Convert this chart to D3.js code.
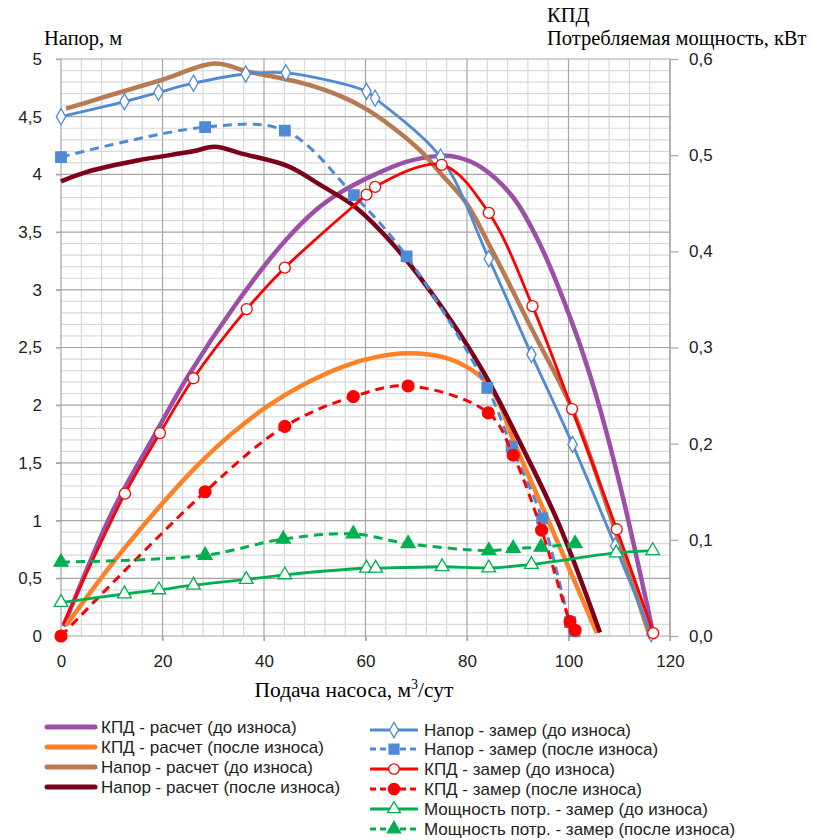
<html>
<head>
<meta charset='UTF-8'>
<script src="https://d3js.org/d3.v7.min.js"></script>
<style>
  body { margin: 0; background: #fff; }
</style>
</head>
<body>
<svg id="chart" width="813" height="840"></svg>
<script>
// --- data: [подача, значение] ---
// КПД - расчет (до износа), right axis
const effCalcBefore = [[0.5,0.01],[10,0.128],[17.9,0.204],[25,0.27],[34.3,0.344],[43.5,0.407],[50,0.442],[55,0.461],[61.5,0.479],[68,0.493],[74,0.499],[78,0.498],[82.6,0.488],[89.1,0.456],[94.4,0.407],[100.9,0.323],[105,0.258],[110,0.16],[116.6,0.005]];
// КПД - расчет (после износа), right axis
const effCalcAfter = [[1,0.011],[6,0.047],[12,0.088],[20,0.138],[27,0.178],[34,0.212],[41,0.24],[48,0.262],[56,0.281],[62,0.29],[68,0.294],[76,0.289],[82.6,0.27],[85.9,0.247],[89.1,0.204],[95.7,0.124],[105.6,0.003]];
// Напор - расчет (до износа), left axis
const headCalcBefore = [[1,4.57],[10,4.69],[20,4.82],[30.3,4.96],[36.9,4.89],[44.8,4.82],[50,4.76],[55,4.68],[60,4.57],[65,4.42],[70.7,4.21],[75,4.0],[79.9,3.75],[84.5,3.38],[93,2.64],[101,1.94],[108,1.07],[115.7,0.04]];
// Напор - расчет (после износа), left axis
const headCalcAfter = [[0,3.94],[5,4.02],[15,4.12],[26,4.2],[30.3,4.24],[35.6,4.18],[44.8,4.07],[51.4,3.9],[57.9,3.72],[65.5,3.39],[74.7,2.87],[83.2,2.29],[90.4,1.68],[98,0.98],[106.2,0.03]];
// Напор - замер (до износа), left axis
const headMeasBefore = [[0,4.5],[12.5,4.63],[19.2,4.71],[26.1,4.79],[36.4,4.87],[44.3,4.88],[60.2,4.72],[61.9,4.66],[74.8,4.15],[84.3,3.27],[92.7,2.44],[100.8,1.66],[109.2,0.78],[116.3,0.02]];
// Напор - замер (после износа), left axis
const headMeasAfter = [[0,4.15],[28.4,4.41],[44.1,4.38],[57.7,3.82],[68.1,3.29],[84,2.15],[88.8,1.64],[94.8,1.02],[100.3,0.12],[101.2,0.04]];
// КПД - замер (до износа), right axis
const effMeasBefore = [[0.4,0.012],[12.6,0.148],[19.5,0.211],[26.1,0.268],[36.6,0.34],[44.1,0.383],[60.2,0.459],[61.9,0.467],[75,0.49],[84.3,0.44],[92.9,0.343],[100.7,0.236],[109.5,0.111],[116.7,0.003]];
// КПД - замер (после износа), right axis
const effMeasAfter = [[0,0],[28.4,0.15],[44.1,0.218],[57.6,0.249],[68.4,0.26],[84.2,0.232],[89.1,0.188],[94.7,0.11],[100.3,0.015],[101.3,0.006]];
// Мощность потр. - замер (до износа)
const powerMeasBefore = [[0,0.29],[12.5,0.364],[19.3,0.4],[26.1,0.44],[36.5,0.49],[44.1,0.53],[60.2,0.587],[62,0.587],[75.1,0.6],[84.3,0.59],[92.7,0.62],[109.4,0.72],[116.6,0.74]];
// Мощность потр. - замер (после износа)
const powerMeasAfter = [[0,0.64],[28.4,0.7],[43.8,0.84],[57.6,0.885],[68.4,0.8],[84.3,0.74],[89.1,0.76],[94.6,0.77],[101.3,0.8]];

const leftTicks = [0, 0.5, 1, 1.5, 2, 2.5, 3, 3.5, 4, 4.5, 5];
const rightTicks = [0, 0.1, 0.2, 0.3, 0.4, 0.5, 0.6];
const xTicks = [0, 20, 40, 60, 80, 100, 120];

const seriesNames = [
  'КПД - расчет (до износа)', 'КПД - расчет (после износа)',
  'Напор - расчет (до износа)', 'Напор - расчет (после износа)',
  'Напор - замер (до износа)', 'Напор - замер (после износа)',
  'КПД - замер (до износа)', 'КПД - замер (после износа)',
  'Мощность потр. - замер (до износа)', 'Мощность потр. - замер (после износа)'
];

const svg = d3.select('#chart');
const ru = d3.formatLocale({decimal: ',', thousands: ' ', grouping: [3], currency: ['', '']});

const x = d3.scaleLinear().domain([0, 120]).range([61, 670]);
const yL = d3.scaleLinear().domain([0, 5]).range([636, 59]);
const yR = d3.scaleLinear().domain([0, 0.6]).range([636, 59]);

// grid: minor then major
const grid = svg.append('g');
d3.range(0, 31).map(i => i * 4).filter(v => v % 20 !== 0).forEach(v => {
  grid.append('line').attr('x1', x(v)).attr('x2', x(v)).attr('y1', yL(0)).attr('y2', yL(5))
    .attr('stroke', '#d9d9d9').attr('stroke-width', 1.2);
});
d3.range(0, 51).map(i => i / 10).filter(v => Math.round(v * 10) % 5 !== 0).forEach(v => {
  grid.append('line').attr('x1', x(0)).attr('x2', x(120)).attr('y1', yL(v)).attr('y2', yL(v))
    .attr('stroke', '#d9d9d9').attr('stroke-width', 1.2);
});
xTicks.forEach(v => {
  grid.append('line').attr('x1', x(v)).attr('x2', x(v)).attr('y1', yL(0) + 5).attr('y2', yL(5))
    .attr('stroke', '#a6a6a6').attr('stroke-width', 1.2);
});
leftTicks.forEach(v => {
  grid.append('line').attr('x1', x(0) - 5).attr('x2', x(120)).attr('y1', yL(v)).attr('y2', yL(v))
    .attr('stroke', '#a6a6a6').attr('stroke-width', 1.2);
});

// axes (labels only, lines come from the grid)
const tickFont = '"Liberation Sans", Arial, sans-serif';
const axL = svg.append('g').attr('transform', `translate(${x(0)},0)`)
  .call(d3.axisLeft(yL).tickValues(leftTicks).tickSize(5).tickPadding(14).tickFormat(ru.format('')));
const axR = svg.append('g').attr('transform', `translate(${x(120)},0)`)
  .call(d3.axisRight(yR).tickValues(rightTicks).tickSize(8).tickPadding(11).tickFormat(ru.format('.1f')));
const axB = svg.append('g').attr('transform', `translate(0,${yL(0)})`)
  .call(d3.axisBottom(x).tickValues(xTicks).tickSize(5).tickPadding(14));
[axL, axR, axB].forEach(a => {
  a.selectAll('text').attr('font-family', tickFont).attr('font-size', 17).attr('fill', '#222');
  a.selectAll('line').attr('stroke', '#a6a6a6').attr('stroke-width', 1.2);
  a.select('.domain').remove();
});
axR.append('line').attr('x1', 0).attr('x2', 0).attr('y1', yR(0)).attr('y2', yR(0.6))
  .attr('stroke', '#a6a6a6').attr('stroke-width', 1.2);

// titles
const serif = '"Liberation Serif", "Times New Roman", serif';
svg.append('text').attr('x', 44).attr('y', 45).attr('font-family', serif).attr('font-size', 20.5).text('Напор, м');
svg.append('text').attr('x', 547).attr('y', 22).attr('font-family', serif).attr('font-size', 20.5).text('КПД');
svg.append('text').attr('x', 547).attr('y', 45).attr('font-family', serif).attr('font-size', 20.5).text('Потребляемая мощность, кВт');
const xt = svg.append('text').attr('x', 354).attr('y', 697).attr('text-anchor', 'middle')
  .attr('font-family', serif).attr('font-size', 21.5);
xt.append('tspan').text('Подача насоса, м');
xt.append('tspan').attr('dy', -8).attr('font-size', 14).text('3');
xt.append('tspan').attr('dy', 8).text('/сут');

// series styles
const purple = '#9b4fa6', orange = '#ff8025', brown = '#b87a53', maroon = '#7c0018';
const blue = '#4f8ad6', red = '#ff0000', green = '#00b050';
const series = [
  {data: effCalcBefore, y: yR, color: purple, width: 4.5},
  {data: effCalcAfter, y: yR, color: orange, width: 4.5},
  {data: headCalcBefore, y: yL, color: brown, width: 4.5},
  {data: headCalcAfter, y: yL, color: maroon, width: 4.5},
  {data: headMeasBefore, y: yL, color: blue, width: 2.8, marker: d3.symbolDiamond, size: 75, fill: '#fff'},
  {data: headMeasAfter, y: yL, color: blue, width: 3, dash: '9,6', marker: d3.symbolSquare, size: 110, fill: blue},
  {data: effMeasBefore, y: yR, color: red, width: 2.8, marker: d3.symbolCircle, size: 95, fill: '#fff', skipFirst: true},
  {data: effMeasAfter, y: yR, color: red, width: 3, dash: '9,6', marker: d3.symbolCircle, size: 110, fill: red},
  {data: powerMeasBefore, y: yL, color: green, width: 2.8, marker: d3.symbolTriangle, size: 80, fill: '#fff'},
  {data: powerMeasAfter, y: yL, color: green, width: 3, dash: '9,6', marker: d3.symbolTriangle, size: 85, fill: green}
];

const plot = svg.append('g');
series.forEach(s => {
  const line = d3.line().x(d => x(d[0])).y(d => s.y(d[1])).curve(d3.curveCatmullRom.alpha(0.5));
  plot.append('path').attr('d', line(s.data)).attr('fill', 'none')
    .attr('stroke', s.color).attr('stroke-width', s.width)
    .attr('stroke-dasharray', s.dash || null).attr('stroke-linejoin', 'round');
  if (s.marker) {
    const pts = s.skipFirst ? s.data.slice(1) : s.data;
    plot.selectAll(null).data(pts).join('path')
      .attr('d', d3.symbol().type(s.marker).size(s.size))
      .attr('transform', d => `translate(${x(d[0])},${s.y(d[1])})`)
      .attr('fill', s.fill).attr('stroke', s.color).attr('stroke-width', 1.3);
  }
});

// legend
const legendFont = '"Liberation Sans Narrow", "Arial Narrow", "Liberation Sans", sans-serif';
const legendPos = [
  [47, 727], [47, 747], [47, 767], [47, 787],
  [370, 730], [370, 749], [370, 769], [370, 789], [370, 809], [370, 829]
];
series.forEach((s, i) => {
  const [lx, ly] = legendPos[i];
  const g = svg.append('g').attr('transform', `translate(${lx},${ly})`);
  g.append('line').attr('x1', 0).attr('x2', 48).attr('y1', 0).attr('y2', 0)
    .attr('stroke', s.color).attr('stroke-width', s.marker ? 3 : 5)
    .attr('stroke-dasharray', s.dash ? '6,4' : null).attr('stroke-linecap', s.marker ? 'butt' : 'round');
  if (s.marker) {
    g.append('path').attr('d', d3.symbol().type(s.marker).size(s.size * 0.9)).attr('transform', 'translate(24,0)')
      .attr('fill', s.fill).attr('stroke', s.color).attr('stroke-width', 1.3);
  }
  g.append('text').attr('x', 54).attr('y', 6).attr('font-family', legendFont).attr('font-size', 17)
    .attr('fill', '#222').text(seriesNames[i]);
});
</script>
</body>
</html>
